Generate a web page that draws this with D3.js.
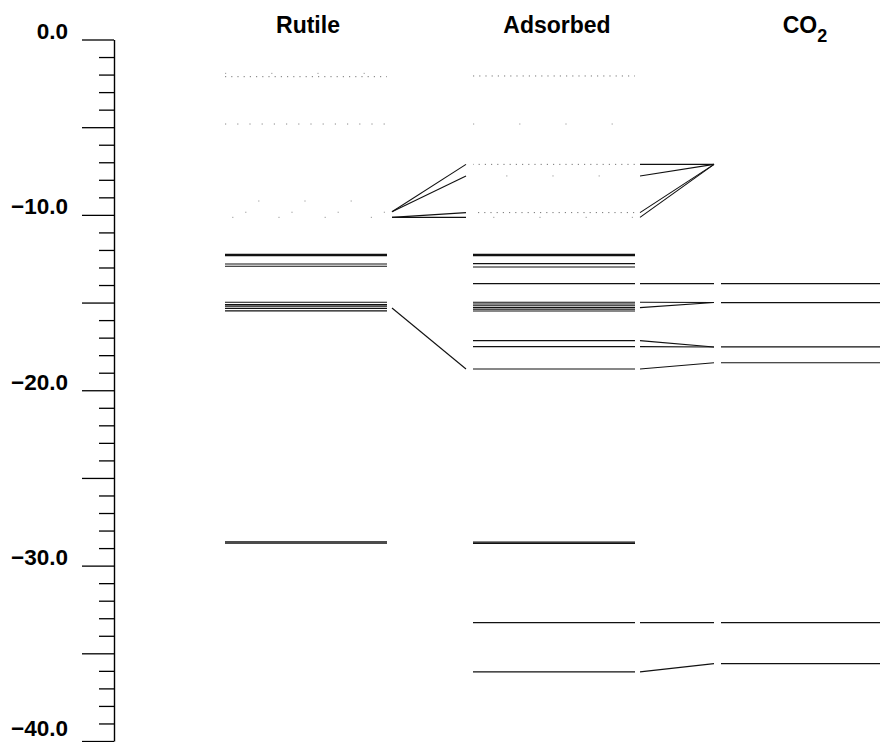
<!DOCTYPE html>
<html>
<head>
<meta charset="utf-8">
<script src="https://cdn.jsdelivr.net/npm/d3@7"></script>
<style>
  html, body { margin: 0; padding: 0; background: #fff; }
  svg { display: block; }
  text { font-family: "Liberation Sans", Arial, Helvetica, sans-serif; font-weight: bold; fill: #000; }
</style>
</head>
<body>
<svg id="chart" width="880" height="742"></svg>
<script>
// ---- data (energies in eV) ----
const columns = ["Rutile", "Adsorbed", "CO2"];
const axisTicks = d3.range(0, -40.5, -1);
const axisLabels = [0, -10, -20, -30, -40];

const rutileOccupied = [-12.25, -12.32, -12.80, -12.93, -14.98, -15.12, -15.20, -15.33, -15.47, -28.65, -28.72];
const rutileVirtual = [-2.12];
const rutileVirtualSparse = [-4.82];
const rutileVirtualFaint = [-1.93, -9.21, -9.85, -10.14];

const adsorbedOccupied = [-12.25, -12.32, -12.78, -12.97, -13.92, -14.98, -15.08, -15.18, -15.29, -15.38, -15.48, -17.17, -17.51, -18.79, -28.66, -28.73, -33.25, -36.06];
const adsorbedVirtual = [-2.08, -7.12, -9.87];
const adsorbedVirtualFaint = [-4.82, -7.78, -10.14];

const co2Occupied = [-13.92, -15.00, -17.53, -18.43, -33.25, -35.59];

// correlation lines [from level, to level]
const rutileToAdsorbed = [[-9.82, -7.12], [-9.82, -7.78], [-10.14, -9.87], [-10.14, -10.14], [-15.31, -18.79]];
const adsorbedToCO2 = [[-7.12, -7.12], [-7.78, -7.12], [-9.87, -7.12], [-10.14, -7.12], [-13.92, -13.92],
  [-14.98, -15.00], [-15.29, -15.00], [-17.17, -17.53], [-17.51, -17.53], [-18.79, -18.43],
  [-33.25, -33.25], [-36.06, -35.59]];

// ---- drawing ----
const svg = d3.select("#chart");
const y = d3.scaleLinear().domain([0, -40]).range([39.5, 741]);
const x = d3.scaleBand().domain(columns).range([225, 883]).paddingInner(0.3468).paddingOuter(0);
const bw = x.bandwidth();

// axis
const axis = d3.axisLeft(y)
  .tickValues(axisTicks)
  .tickSize(15)
  .tickSizeOuter(0)
  .tickFormat(d => axisLabels.includes(d) ? d3.format(".1f")(d) : "");
const gAxis = svg.append("g").attr("transform", "translate(114,0)").call(axis);
gAxis.select(".domain").attr("stroke", "#000").attr("stroke-width", 1.4);
gAxis.selectAll(".tick line")
  .attr("stroke", "#000").attr("stroke-width", 1.3)
  .attr("x2", d => (Math.round(d) % 5 === 0) ? -32 : -15);
gAxis.selectAll(".tick text")
  .attr("x", -46)
  .attr("dy", d => d === -40 ? "-6" : "-1")
  .style("font-size", "22.5px")
  .style("font-weight", "bold")
  .style("font-family", '"Liberation Sans", Arial, sans-serif')
  .attr("fill", "#000");

// column titles
const titleY = 33;
const titleSize = "23px";
svg.append("text").attr("x", x("Rutile") + bw / 2 + 2).attr("y", titleY)
  .attr("text-anchor", "middle").style("font-size", titleSize).text("Rutile");
svg.append("text").attr("x", x("Adsorbed") + bw / 2 + 3).attr("y", titleY)
  .attr("text-anchor", "middle").style("font-size", titleSize).text("Adsorbed");
const co2t = svg.append("text").attr("x", x("CO2") + bw / 2 + 3).attr("y", titleY)
  .attr("text-anchor", "middle").style("font-size", titleSize);
co2t.append("tspan").text("CO");
co2t.append("tspan").attr("dy", 9).style("font-size", "18px").text("2");

// levels
function drawLevels(col, values, style) {
  svg.append("g").selectAll("line").data(values).join("line")
    .attr("x1", x(col)).attr("x2", x(col) + bw)
    .attr("y1", d => y(d)).attr("y2", d => y(d))
    .attr("stroke", style.color)
    .attr("stroke-width", style.width)
    .attr("stroke-dasharray", style.dash || null)
    .attr("stroke-dashoffset", (d, i) => style.dash ? i * 13 : null);
}
const occ = { color: "#111", width: 1.15 };
const virt = { color: "#777", width: 1, dash: "1.2,5" };
const sparse = { color: "#888", width: 1, dash: "1.2,11" };
const faint = { color: "#999", width: 1, dash: "1.2,45" };

drawLevels("Rutile", rutileOccupied, occ);
drawLevels("Rutile", rutileVirtual, virt);
drawLevels("Rutile", rutileVirtualSparse, sparse);
drawLevels("Rutile", rutileVirtualFaint, faint);
drawLevels("Adsorbed", adsorbedOccupied, occ);
drawLevels("Adsorbed", adsorbedVirtual, virt);
drawLevels("Adsorbed", adsorbedVirtualFaint, faint);
drawLevels("CO2", co2Occupied, occ);

// correlation lines
function drawLinks(fromCol, toCol, pairs) {
  const x1 = x(fromCol) + bw + 5;
  const x2 = x(toCol) - 7;
  svg.append("g").selectAll("line").data(pairs).join("line")
    .attr("x1", x1).attr("x2", x2)
    .attr("y1", d => y(d[0])).attr("y2", d => y(d[1]))
    .attr("stroke", "#111").attr("stroke-width", 1.1);
}
drawLinks("Rutile", "Adsorbed", rutileToAdsorbed);
drawLinks("Adsorbed", "CO2", adsorbedToCO2);
</script>
</body>
</html>
